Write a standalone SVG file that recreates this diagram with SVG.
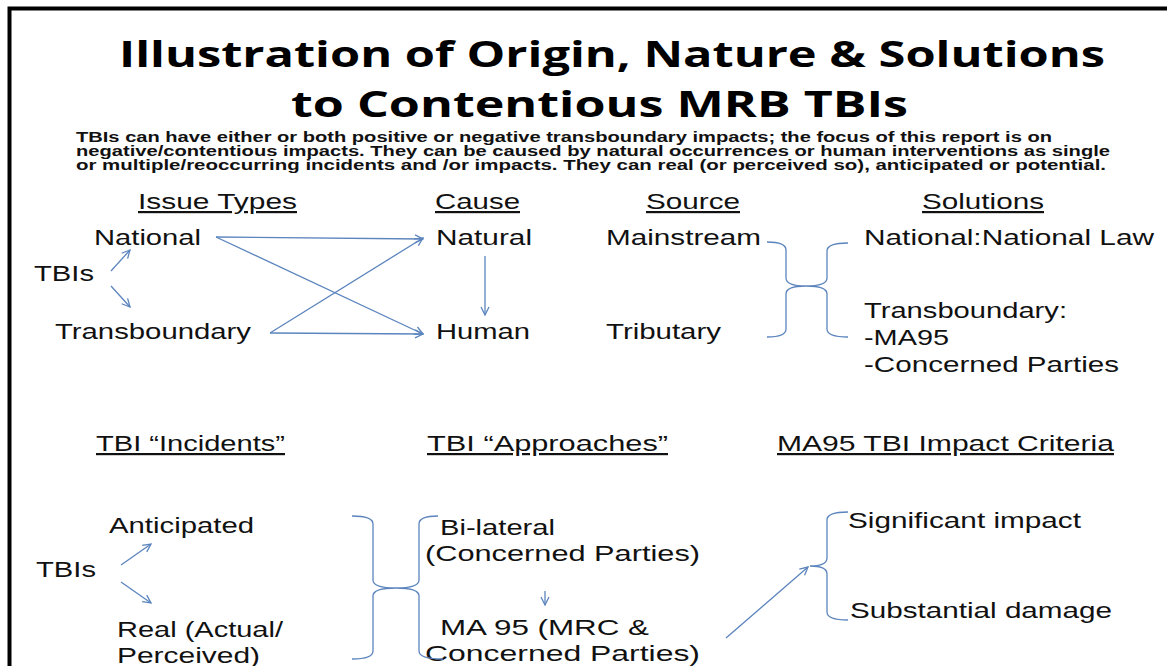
<svg xmlns="http://www.w3.org/2000/svg" width="1167" height="666" viewBox="0 0 1167 666">
  <style>
    .title { font-family: "Open Sans", "Liberation Sans", sans-serif; font-weight: 700; font-size: 36px; fill: #000; }
    .para { font-family: "Liberation Sans", Arial, sans-serif; font-weight: 700; font-size: 14.5px; fill: #111; }
    .t { font-family: "Liberation Sans", Arial, sans-serif; font-size: 22px; fill: #111; }
    .h { font-family: "Liberation Sans", Arial, sans-serif; font-size: 22px; fill: #111; text-decoration: underline; }
    .ln { fill: none; stroke: #5C85BE; stroke-width: 1.3; }
    .arr { fill: none; stroke: #5C85BE; stroke-width: 1.3; marker-end: url(#head); }
  </style>
  <defs>
    <marker id="head" viewBox="0 0 10 10" refX="9" refY="5" markerWidth="10" markerHeight="10" markerUnits="userSpaceOnUse" orient="auto">
      <path d="M1,1 L9,5 L1,9" fill="none" stroke="#5C85BE" stroke-width="1.3"/>
    </marker>
  </defs>

  <rect x="0" y="0" width="1167" height="666" fill="#fff"/>
  <!-- page frame: left and top edges -->
  <path d="M9.5,666 L9.5,8.5 L1167,8.5" fill="none" stroke="#000" stroke-width="4"/>

  <g id="title">
    <text class="title" x="119" y="67" textLength="986" lengthAdjust="spacingAndGlyphs">Illustration of Origin, Nature &amp; Solutions</text>
    <text class="title" x="291" y="117" textLength="617" lengthAdjust="spacingAndGlyphs">to Contentious MRB TBIs</text>
  </g>

  <g id="intro">
    <text class="para" x="76" y="142" textLength="976" lengthAdjust="spacingAndGlyphs">TBIs can have either or both positive or negative transboundary impacts; the focus of this report is on</text>
    <text class="para" x="76" y="156" textLength="1034" lengthAdjust="spacingAndGlyphs">negative/contentious impacts. They can be caused by natural occurrences or human interventions as single</text>
    <text class="para" x="76" y="170" textLength="1030" lengthAdjust="spacingAndGlyphs">or multiple/reoccurring  incidents and /or impacts. They can real (or perceived so), anticipated or potential.</text>
  </g>

  <!-- upper panel headings -->
  <g id="headings-top">
    <text class="h" x="138" y="209" textLength="159" lengthAdjust="spacingAndGlyphs">Issue Types</text>
    <text class="h" x="435" y="209" textLength="85" lengthAdjust="spacingAndGlyphs">Cause</text>
    <text class="h" x="646" y="209" textLength="94" lengthAdjust="spacingAndGlyphs">Source</text>
    <text class="h" x="922" y="209" textLength="122" lengthAdjust="spacingAndGlyphs">Solutions</text>
  </g>

  <g id="tbis-top"><text class="t" x="34" y="281" textLength="60" lengthAdjust="spacingAndGlyphs">TBIs</text></g>
  <g id="national"><text class="t" x="94" y="245" textLength="107" lengthAdjust="spacingAndGlyphs">National</text></g>
  <g id="transboundary"><text class="t" x="55" y="339" textLength="196" lengthAdjust="spacingAndGlyphs">Transboundary</text></g>
  <g id="natural"><text class="t" x="436" y="245" textLength="96" lengthAdjust="spacingAndGlyphs">Natural</text></g>
  <g id="human"><text class="t" x="436" y="339" textLength="94" lengthAdjust="spacingAndGlyphs">Human</text></g>
  <g id="mainstream"><text class="t" x="606" y="245" textLength="155" lengthAdjust="spacingAndGlyphs">Mainstream</text></g>
  <g id="tributary"><text class="t" x="606" y="339" textLength="115" lengthAdjust="spacingAndGlyphs">Tributary</text></g>
  <g id="sol-national"><text class="t" x="864" y="245" textLength="290" lengthAdjust="spacingAndGlyphs">National:National Law</text></g>
  <g id="sol-transboundary">
    <text class="t" x="864" y="318" textLength="203" lengthAdjust="spacingAndGlyphs">Transboundary:</text>
    <text class="t" x="864" y="345" textLength="85" lengthAdjust="spacingAndGlyphs">-MA95</text>
    <text class="t" x="864" y="372" textLength="255" lengthAdjust="spacingAndGlyphs">-Concerned Parties</text>
  </g>

  <!-- lower panel headings -->
  <g id="headings-bottom">
    <text class="h" x="96" y="451" textLength="189" lengthAdjust="spacingAndGlyphs">TBI “Incidents”</text>
    <text class="h" x="427" y="451" textLength="241" lengthAdjust="spacingAndGlyphs">TBI  “Approaches”</text>
    <text class="h" x="777" y="451" textLength="337" lengthAdjust="spacingAndGlyphs">MA95 TBI Impact Criteria</text>
  </g>

  <g id="tbis-bottom"><text class="t" x="36" y="577" textLength="60" lengthAdjust="spacingAndGlyphs">TBIs</text></g>
  <g id="anticipated"><text class="t" x="109" y="533" textLength="145" lengthAdjust="spacingAndGlyphs">Anticipated</text></g>
  <g id="real">
    <text class="t" x="117" y="637" textLength="166" lengthAdjust="spacingAndGlyphs">Real (Actual/</text>
    <text class="t" x="117" y="663" textLength="143" lengthAdjust="spacingAndGlyphs">Perceived)</text>
  </g>
  <g id="bilateral">
    <text class="t" x="440" y="535" textLength="115" lengthAdjust="spacingAndGlyphs">Bi-lateral</text>
    <text class="t" x="425" y="561" textLength="275" lengthAdjust="spacingAndGlyphs">(Concerned Parties)</text>
  </g>
  <g id="ma95">
    <text class="t" x="440" y="635" textLength="209" lengthAdjust="spacingAndGlyphs">MA 95 (MRC &amp;</text>
    <text class="t" x="425" y="661" textLength="275" lengthAdjust="spacingAndGlyphs">Concerned Parties)</text>
  </g>
  <g id="significant"><text class="t" x="848" y="528" textLength="233" lengthAdjust="spacingAndGlyphs">Significant impact</text></g>
  <g id="substantial"><text class="t" x="850" y="618" textLength="262" lengthAdjust="spacingAndGlyphs">Substantial damage</text></g>

  <g id="connectors">
    <!-- issue types -->
    <line class="arr" x1="111" y1="271" x2="130" y2="250"/>
    <line class="arr" x1="111" y1="286" x2="130" y2="307"/>
    <line class="arr" x1="216" y1="237" x2="423" y2="239"/>
    <line class="arr" x1="216" y1="237" x2="423" y2="334"/>
    <line class="arr" x1="270" y1="333" x2="423" y2="238"/>
    <line class="arr" x1="270" y1="333" x2="423" y2="334"/>
    <line class="arr" x1="485" y1="256" x2="485" y2="315"/>
    <!-- source / solutions braces -->
    <path class="ln" d="M767,242 Q786,242 786,250 L786,278 Q786,286 806,286 Q786,286 786,294 L786,329 Q786,337 767,337"/>
    <path class="ln" d="M848,243 Q827,243 827,251 L827,278 Q827,286 806,286 Q827,286 827,294 L827,329 Q827,337 848,337"/>
    <!-- incidents / approaches braces -->
    <path class="ln" d="M352,516 Q373,516 373,524 L373,580 Q373,588 396,588 Q373,588 373,596 L373,651 Q373,659 352,659"/>
    <path class="ln" d="M438,516 Q419,516 419,524 L419,580 Q419,588 396,588 Q419,588 419,596 L419,651 Q419,659 443,659"/>
    <!-- tbis incidents -->
    <line class="arr" x1="121" y1="565" x2="151" y2="544"/>
    <line class="arr" x1="121" y1="582" x2="151" y2="603"/>
    <!-- approaches -->
    <line class="arr" x1="545" y1="591" x2="545" y2="605"/>
    <line class="arr" x1="726" y1="638" x2="808" y2="567"/>
    <!-- criteria brace -->
    <path class="ln" d="M848,512 Q827,512 827,520 L827,558 Q827,566 810,566 Q827,566 827,574 L827,612 Q827,620 848,620"/>
  </g>
</svg>
